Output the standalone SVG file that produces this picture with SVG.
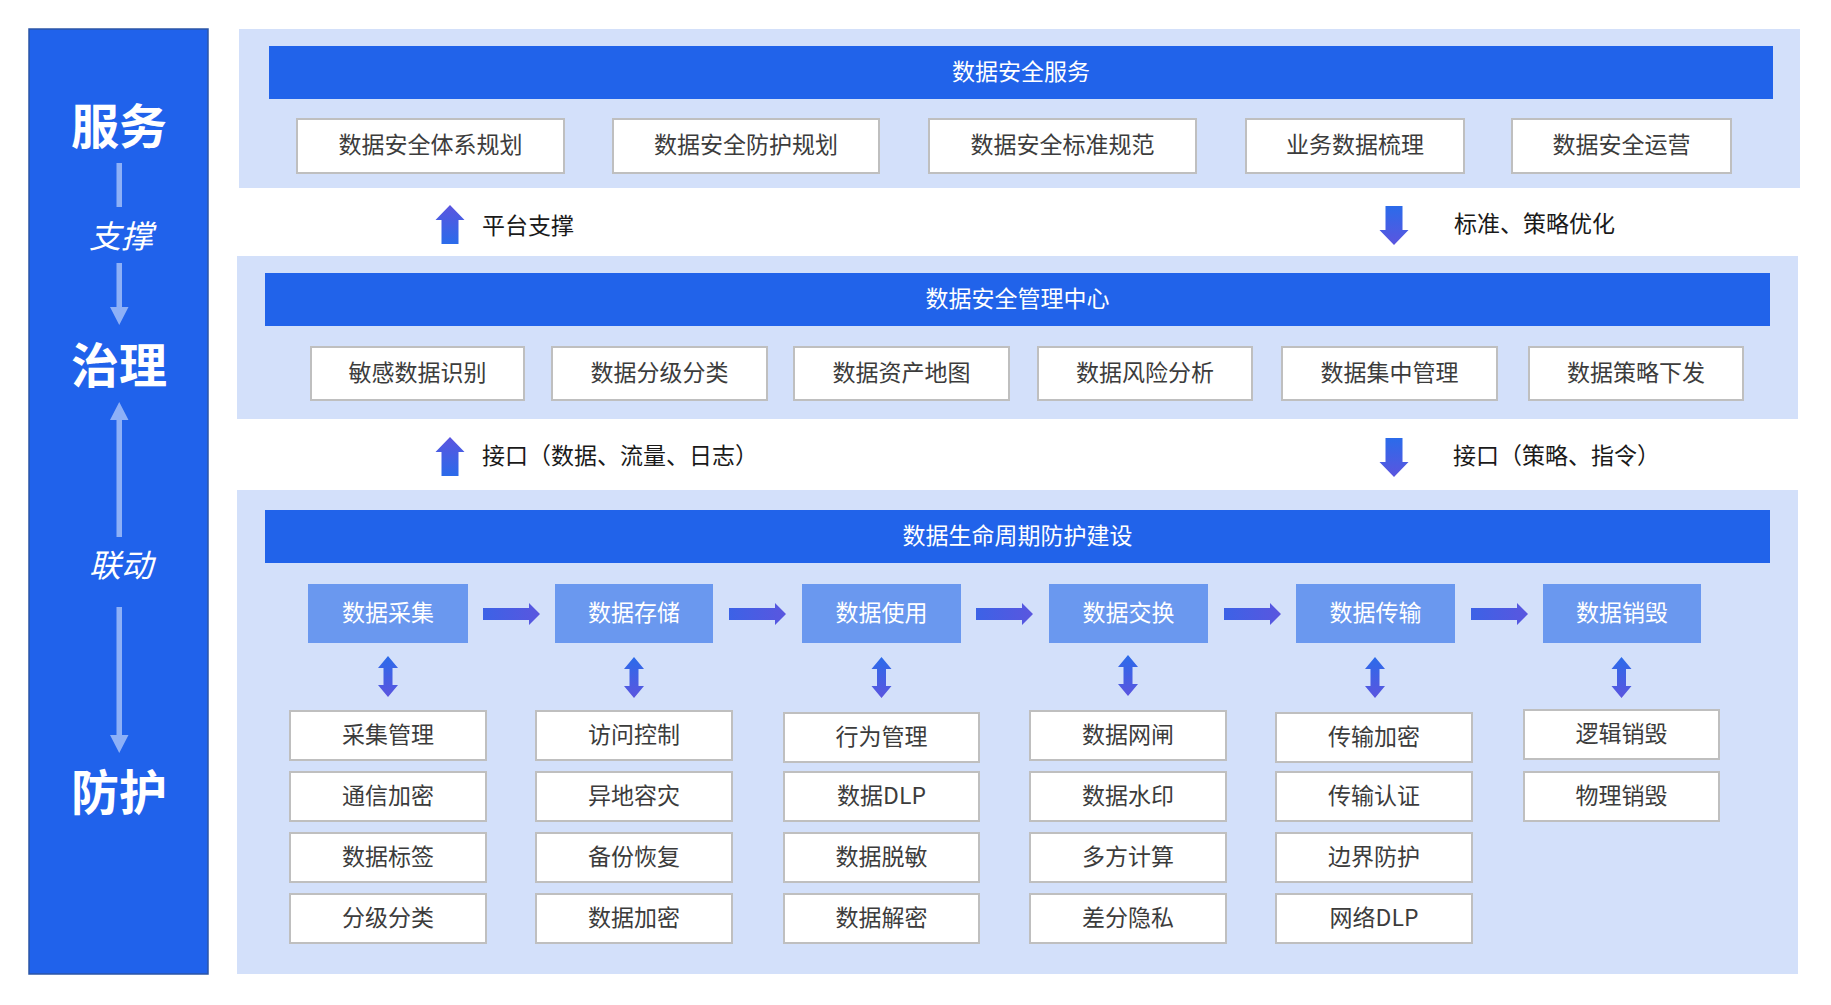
<svg xmlns="http://www.w3.org/2000/svg" xmlns:xlink="http://www.w3.org/1999/xlink" width="1831" height="1005" viewBox="0 0 1831 1005">
<style>
text{font-family:"Noto Sans CJK SC","Noto Sans",sans-serif;dominant-baseline:central;text-anchor:middle;transform:translateY(-3px)}
.panel{fill:#d3e0fa}
.band{fill:#2163ea}
.bandt{fill:#fff;font-size:23px}
.box{fill:#fff;stroke:#bfbfbf;stroke-width:2}
.boxt{fill:#3c3c3c;font-size:23px}
.stage{fill:#6a98ef}
.staget{fill:#fff;font-size:23px}
.gapt{fill:#1a1a1a;font-size:23px;text-anchor:start}
.side{fill:#fff;font-size:48px;font-weight:bold}
.sidei{fill:#fff;font-size:32px;font-style:italic}
.lite{fill:#8db0f7}
</style>
<defs>
<linearGradient id="gv" x1="0" y1="0" x2="0" y2="1"><stop offset="0" stop-color="#2b6bea"/><stop offset="1" stop-color="#5b55df"/></linearGradient>
<linearGradient id="gu" x1="0" y1="1" x2="0" y2="0"><stop offset="0" stop-color="#2b6bea"/><stop offset="1" stop-color="#5b55df"/></linearGradient>
<linearGradient id="gh" x1="0" y1="0" x2="1" y2="0"><stop offset="0" stop-color="#3c62e6"/><stop offset="1" stop-color="#5a56df"/></linearGradient>
<path id="dbl" d="M0,0 L10,12 L4.5,12 L4.5,29 L10,29 L0,41 L-10,29 L-4.5,29 L-4.5,12 L-10,12 Z"/>
<path id="hr" d="M0,5 L46,5 L46,0 L57,11 L46,22 L46,17 L0,17 Z"/>
<path id="up" d="M0,0 L14.5,15 L8.5,15 L8.5,39 L-8.5,39 L-8.5,15 L-14.5,15 Z"/>
<path id="dn" d="M-8.5,0 L8.5,0 L8.5,24 L14.5,24 L0,39 L-14.5,24 L-8.5,24 Z"/>
</defs>

<g id="side">
<rect x="29" y="29" width="179" height="945" fill="#2062eb" stroke="#2b55a6" stroke-width="1.5"/>
<text class="side" x="119" y="126">服务</text>
<rect class="lite" x="116.5" y="163" width="5.5" height="44"/>
<text class="sidei" x="121" y="237">支撑</text>
<path class="lite" d="M116.5,263 L122,263 L122,307 L128.5,307 L119.25,325 L110,307 L116.5,307 Z"/>
<text class="side" x="119" y="365">治理</text>
<path class="lite" d="M119.25,402 L128.5,420 L122,420 L122,537 L116.5,537 L116.5,420 L110,420 Z"/>
<text class="sidei" x="121" y="566">联动</text>
<path class="lite" d="M116.5,607 L122,607 L122,735 L128.5,735 L119.25,753 L110,735 L116.5,735 Z"/>
<text class="side" x="119" y="792">防护</text>
</g>

<g id="service">
<rect class="panel" x="239" y="29" width="1561" height="159"/>
<rect class="band" x="269" y="46" width="1504" height="53"/>
<text class="bandt" x="1021" y="72.5">数据安全服务</text>
<g id="s1"><rect class="box" x="297" y="119" width="267" height="54"/><text class="boxt" x="430.5" y="146">数据安全体系规划</text></g>
<g id="s2"><rect class="box" x="613" y="119" width="266" height="54"/><text class="boxt" x="746" y="146">数据安全防护规划</text></g>
<g id="s3"><rect class="box" x="929" y="119" width="267" height="54"/><text class="boxt" x="1062.5" y="146">数据安全标准规范</text></g>
<g id="s4"><rect class="box" x="1246" y="119" width="218" height="54"/><text class="boxt" x="1355" y="146">业务数据梳理</text></g>
<g id="s5"><rect class="box" x="1512" y="119" width="219" height="54"/><text class="boxt" x="1621.5" y="146">数据安全运营</text></g>
</g>

<g id="mgmt">
<rect class="panel" x="237" y="256" width="1561" height="163"/>
<rect class="band" x="265" y="273" width="1505" height="53"/>
<text class="bandt" x="1017.5" y="299.5">数据安全管理中心</text>
<g id="m1"><rect class="box" x="311" y="347" width="213" height="53"/><text class="boxt" x="417.5" y="373.5">敏感数据识别</text></g>
<g id="m2"><rect class="box" x="552" y="347" width="215" height="53"/><text class="boxt" x="659.5" y="373.5">数据分级分类</text></g>
<g id="m3"><rect class="box" x="794" y="347" width="215" height="53"/><text class="boxt" x="901.5" y="373.5">数据资产地图</text></g>
<g id="m4"><rect class="box" x="1038" y="347" width="214" height="53"/><text class="boxt" x="1145" y="373.5">数据风险分析</text></g>
<g id="m5"><rect class="box" x="1282" y="347" width="215" height="53"/><text class="boxt" x="1389.5" y="373.5">数据集中管理</text></g>
<g id="m6"><rect class="box" x="1529" y="347" width="214" height="53"/><text class="boxt" x="1636" y="373.5">数据策略下发</text></g>
</g>

<g id="lifecycle">
<rect class="panel" x="237" y="490" width="1561" height="484"/>
<rect class="band" x="265" y="510" width="1505" height="53"/>
<text class="bandt" x="1017.5" y="536.5">数据生命周期防护建设</text>
<g id="st1"><rect class="stage" x="308" y="584" width="160" height="59"/><text class="staget" x="388" y="613.5">数据采集</text></g>
<g id="st2"><rect class="stage" x="555" y="584" width="158" height="59"/><text class="staget" x="634" y="613.5">数据存储</text></g>
<g id="st3"><rect class="stage" x="802" y="584" width="159" height="59"/><text class="staget" x="881.5" y="613.5">数据使用</text></g>
<g id="st4"><rect class="stage" x="1049" y="584" width="159" height="59"/><text class="staget" x="1128.5" y="613.5">数据交换</text></g>
<g id="st5"><rect class="stage" x="1296" y="584" width="159" height="59"/><text class="staget" x="1375.5" y="613.5">数据传输</text></g>
<g id="st6"><rect class="stage" x="1543" y="584" width="158" height="59"/><text class="staget" x="1622" y="613.5">数据销毁</text></g>

<g id="c1">
<rect class="box" x="290" y="711" width="196" height="49"/><text class="boxt" x="388" y="735.5">采集管理</text>
<rect class="box" x="290" y="772" width="196" height="49"/><text class="boxt" x="388" y="796.5">通信加密</text>
<rect class="box" x="290" y="833" width="196" height="49"/><text class="boxt" x="388" y="857.5">数据标签</text>
<rect class="box" x="290" y="894" width="196" height="49"/><text class="boxt" x="388" y="918.5">分级分类</text>
</g>
<g id="c2">
<rect class="box" x="536" y="711" width="196" height="49"/><text class="boxt" x="634" y="735.5">访问控制</text>
<rect class="box" x="536" y="772" width="196" height="49"/><text class="boxt" x="634" y="796.5">异地容灾</text>
<rect class="box" x="536" y="833" width="196" height="49"/><text class="boxt" x="634" y="857.5">备份恢复</text>
<rect class="box" x="536" y="894" width="196" height="49"/><text class="boxt" x="634" y="918.5">数据加密</text>
</g>
<g id="c3">
<rect class="box" x="784" y="713" width="195" height="49"/><text class="boxt" x="881.5" y="737.5">行为管理</text>
<rect class="box" x="784" y="772" width="195" height="49"/><text class="boxt" x="881.5" y="796.5">数据DLP</text>
<rect class="box" x="784" y="833" width="195" height="49"/><text class="boxt" x="881.5" y="857.5">数据脱敏</text>
<rect class="box" x="784" y="894" width="195" height="49"/><text class="boxt" x="881.5" y="918.5">数据解密</text>
</g>
<g id="c4">
<rect class="box" x="1030" y="711" width="196" height="49"/><text class="boxt" x="1128" y="735.5">数据网闸</text>
<rect class="box" x="1030" y="772" width="196" height="49"/><text class="boxt" x="1128" y="796.5">数据水印</text>
<rect class="box" x="1030" y="833" width="196" height="49"/><text class="boxt" x="1128" y="857.5">多方计算</text>
<rect class="box" x="1030" y="894" width="196" height="49"/><text class="boxt" x="1128" y="918.5">差分隐私</text>
</g>
<g id="c5">
<rect class="box" x="1276" y="713" width="196" height="49"/><text class="boxt" x="1374" y="737.5">传输加密</text>
<rect class="box" x="1276" y="772" width="196" height="49"/><text class="boxt" x="1374" y="796.5">传输认证</text>
<rect class="box" x="1276" y="833" width="196" height="49"/><text class="boxt" x="1374" y="857.5">边界防护</text>
<rect class="box" x="1276" y="894" width="196" height="49"/><text class="boxt" x="1374" y="918.5">网络DLP</text>
</g>
<g id="c6">
<rect class="box" x="1524" y="710" width="195" height="49"/><text class="boxt" x="1621.5" y="734.5">逻辑销毁</text>
<rect class="box" x="1524" y="772" width="195" height="49"/><text class="boxt" x="1621.5" y="796.5">物理销毁</text>
</g>
</g>

<g id="gaps">
<text class="gapt" x="482" y="227">平台支撑</text>
<text class="gapt" x="1454" y="225">标准、策略优化</text>
<text class="gapt" x="482" y="457">接口（数据、流量、日志）</text>
<text class="gapt" x="1453" y="457">接口（策略、指令）</text>
</g>

<g id="connectors">
<use href="#up" x="450" y="205" fill="url(#gu)"/>
<use href="#dn" x="1394" y="206" fill="url(#gv)"/>
<use href="#up" x="450" y="437" fill="url(#gu)"/>
<use href="#dn" x="1394" y="438" fill="url(#gv)"/>
<use href="#hr" x="483" y="603" fill="url(#gh)"/>
<use href="#hr" x="729" y="603" fill="url(#gh)"/>
<use href="#hr" x="976" y="603" fill="url(#gh)"/>
<use href="#hr" x="1224" y="603" fill="url(#gh)"/>
<use href="#hr" x="1471" y="603" fill="url(#gh)"/>
<use href="#dbl" x="388" y="656" fill="url(#gv)"/>
<use href="#dbl" x="634" y="657" fill="url(#gv)"/>
<use href="#dbl" x="881.5" y="657" fill="url(#gv)"/>
<use href="#dbl" x="1128" y="655" fill="url(#gv)"/>
<use href="#dbl" x="1375" y="657" fill="url(#gv)"/>
<use href="#dbl" x="1621.5" y="657" fill="url(#gv)"/>
</g>
</svg>
